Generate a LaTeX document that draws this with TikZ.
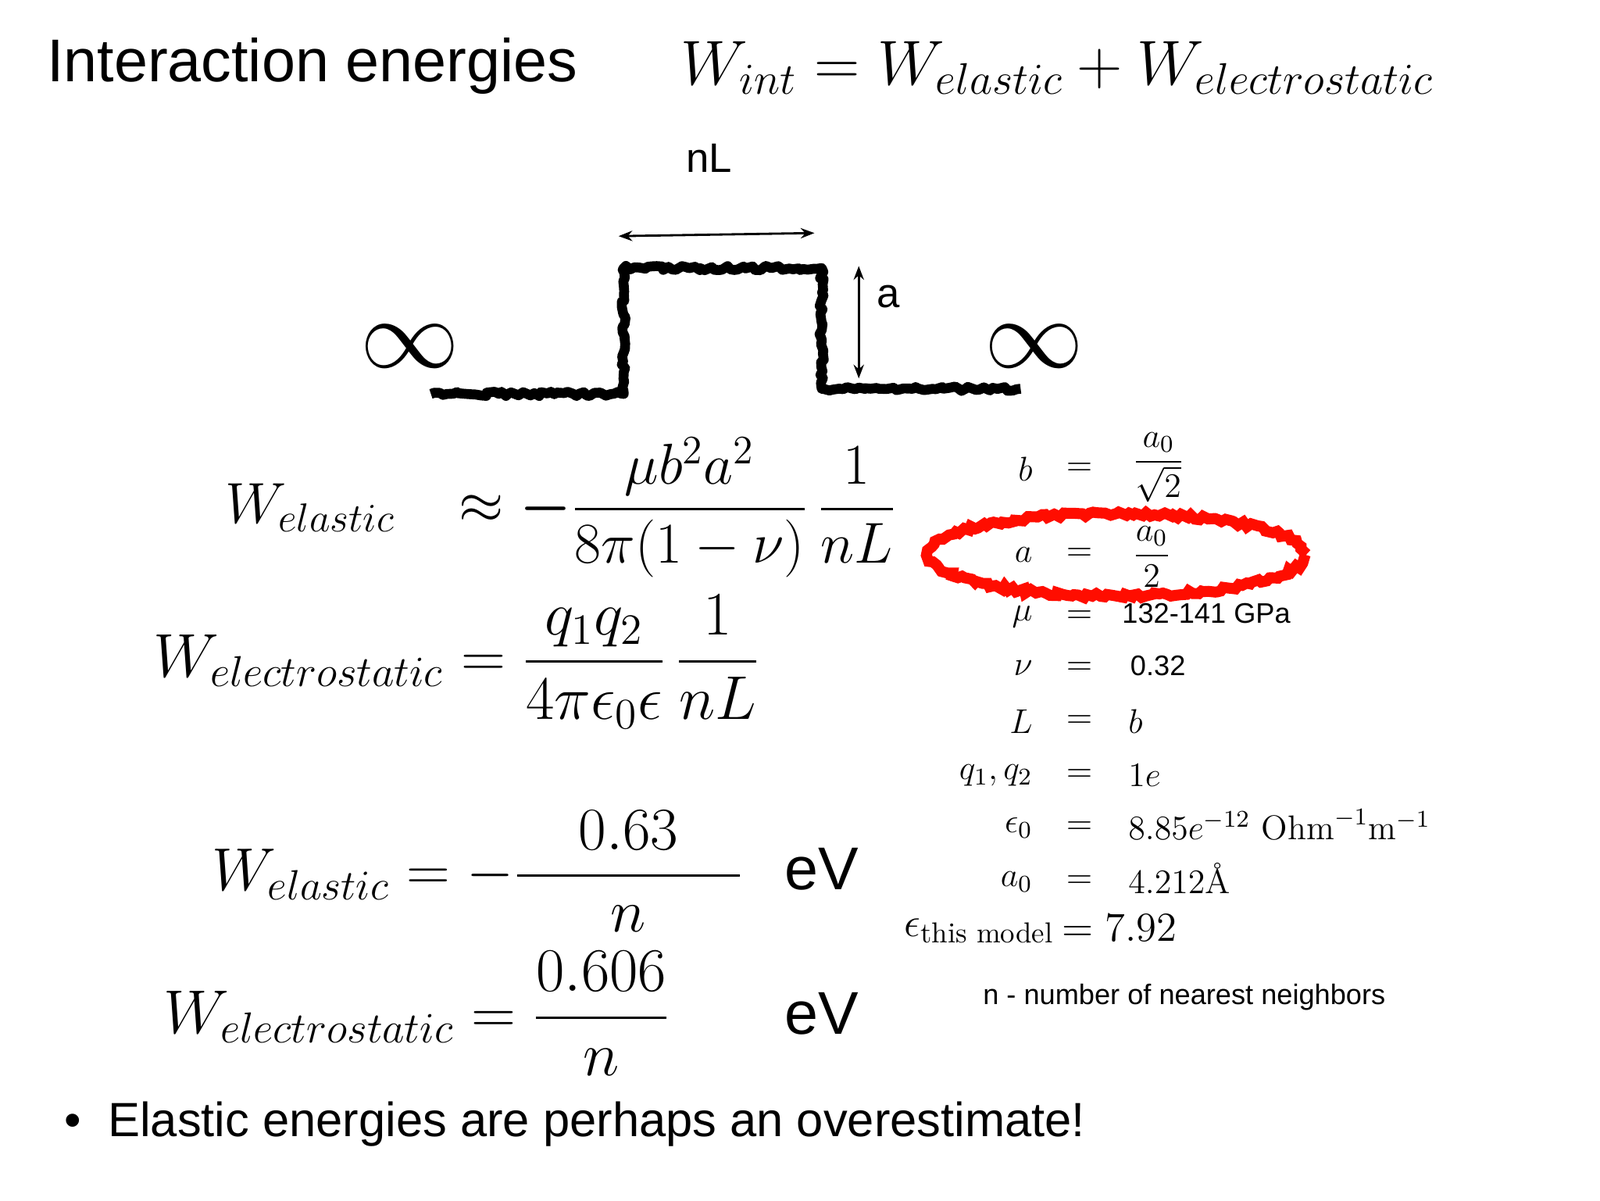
\documentclass[tikz,border=0pt]{standalone}
\usepackage{fix-cm}
\usepackage{amsmath}
\usepackage{fontspec}
\newfontfamily\hv{Liberation Sans}
\usetikzlibrary{decorations.pathmorphing,arrows.meta}
\tikzset{
  hvt/.style={font=\hv\fontsize{#1}{#1}\selectfont,inner sep=0pt},
  mth/.style={font=\fontsize{#1}{#1}\selectfont,inner sep=0pt},
  tl/.style={mth=12.5,anchor=east},
  tr/.style={mth=12.5,anchor=west},
  rough/.style={line width=3.6pt,decorate,decoration={random steps,segment length=1.5pt,amplitude=0.8pt}},
  dim/.style={{Stealth[length=5pt]}-{Stealth[length=5pt]},line width=0.8pt}
}
\begin{document}
\begin{tikzpicture}[x=0.0132cm,y=-0.0132cm]
\useasboundingbox[fill=white] (0,0) rectangle (1552,1164);
\node[hvt=22,anchor=west] (title) at (45,64) {Interaction energies};
\node[mth=23,anchor=west] (wint) at (660,66) {$W_{int}=W_{elastic}+W_{electrostatic}$};
% square wave
\coordinate (p1) at (418,382); \coordinate (p2) at (605,382); \coordinate (p3) at (605,260);
\coordinate (p4) at (797,260); \coordinate (p5) at (797,377); \coordinate (p6) at (990,377);
\draw[rough,line join=round] (p1)--(p2)--(p3)--(p4)--(p5)--(p6);
\coordinate (nl1) at (600,229); \coordinate (nl2) at (790,226);
\draw[dim] (nl1)--(nl2);
\node[hvt=15] (nl) at (688,153) {nL};
\coordinate (a1) at (833,258); \coordinate (a2) at (833,367);
\draw[dim] (a1)--(a2);
\node[hvt=15] (alab) at (862,288) {a};
\node[mth=36] (inf1) at (398,336) {$\infty$};
\node[mth=36] (inf2) at (1003,336) {$\infty$};
% red ellipse
\draw[red!90!orange,line width=4pt,decorate,decoration={random steps,segment length=1.5pt,amplitude=0.8pt}] (1083,538) ellipse [x radius=183, y radius=40];
% equations
\node[mth=21,anchor=west] (e1) at (218,492) {$W_{elastic}\;\;\;\approx\boldsymbol{-}\dfrac{\mu b^2a^2}{8\pi(1-\nu)}\,\dfrac{1}{nL}$};
\node[mth=22.5,anchor=west] (e2) at (148,642) {$W_{electrostatic}=\dfrac{q_1q_2}{4\pi\epsilon_0\epsilon}\,\dfrac{1}{nL}$};
\node[mth=22,anchor=west] (e3) at (205,845) {$W_{elastic}=-\dfrac{0.63}{\quad\;\; n\quad\;\;}$};
\node[hvt=22] (ev1) at (797,843) {eV};
\node[mth=22.5,anchor=west] (e4) at (158,983) {$W_{electrostatic}=\dfrac{0.606}{n}$};
\node[hvt=22] (ev2) at (797,983) {eV};
\node[hvt=17.5,anchor=west] (bul) at (62,1090) {\textbullet\ \ Elastic energies are perhaps an overestimate!};
% table
\node[tl] (l1) at (1002,455) {$b$};
\node[tl] (l2) at (1002,538) {$a$};
\node[tl] (l3) at (1002,598) {$\mu$};
\node[tl] (l4) at (1002,648) {$\nu$};
\node[tl] (l5) at (1002,700) {$L$};
\node[tl] (l6) at (1002,752) {$q_1,q_2$};
\node[tl] (l7) at (1002,803) {$\epsilon_0$};
\node[tl] (l8) at (1002,855) {$a_0$};
\node[mth=12.5] (q1) at (1047,455) {$=$};
\node[mth=12.5] (q2) at (1047,538) {$=$};
\node[mth=12.5] (q3) at (1047,598) {$=$};
\node[mth=12.5] (q4) at (1047,648) {$=$};
\node[mth=12.5] (q5) at (1047,700) {$=$};
\node[mth=12.5] (q6) at (1047,752) {$=$};
\node[mth=12.5] (q7) at (1047,803) {$=$};
\node[mth=12.5] (q8) at (1047,855) {$=$};
\node[tr] (r1) at (1098,453) {$\dfrac{a_0}{\sqrt{2}}$};
\node[tr] (r2) at (1098,540) {$\dfrac{a_0}{2}$};
\node[hvt=10.3,anchor=west] (r3) at (1088,595) {132-141 GPa};
\node[hvt=10.3,anchor=west] (r4) at (1096,646) {0.32};
\node[tr] (r5) at (1094,700) {$b$};
\node[tr] (r6) at (1094,752) {$1e$};
\node[tr] (r7) at (1094,800) {$8.85e^{-12}\ \mathrm{Ohm}^{-1}\mathrm{m}^{-1}$};
\node[tr] (r8) at (1094,852) {$4.212\text{\AA}$};
\node[mth=15,anchor=east] (l9) at (1023,903) {$\epsilon_{\text{this model}}$};
\node[mth=15,anchor=west] (r9) at (1030,900) {$=7.92$};
\node[hvt=10.3,anchor=west] (nn) at (953,967) {n - number of nearest neighbors};
\end{tikzpicture}
\end{document}
